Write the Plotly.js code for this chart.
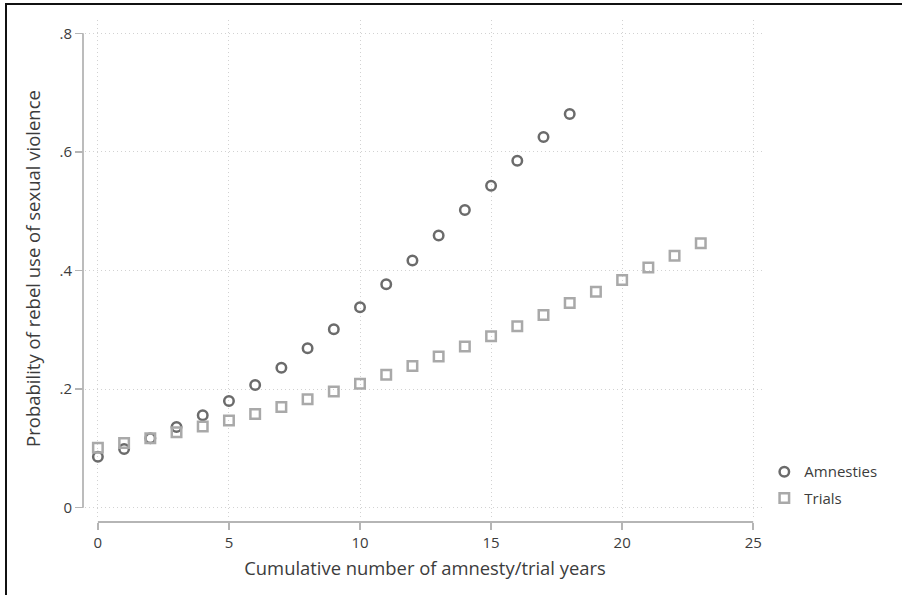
<!DOCTYPE html>
<html>
<head>
<meta charset="utf-8">
<script src="https://cdn.plot.ly/plotly-3.0.1.min.js"></script>
<style>
html, body { margin: 0; padding: 0; background: #ffffff; overflow: hidden; }
#chart { width: 902px; height: 595px; position: absolute; left: 0; top: 0; }
#frame { position: absolute; left: 5px; top: 3px; width: 910px; height: 610px;
  border-left: 2px solid #111; border-top: 2px solid #111; pointer-events: none; }
</style>
</head>
<body>
<div id="chart"></div>
<div id="frame"></div>
<script>
// Data
const amnestyX = [0,1,2,3,4,5,6,7,8,9,10,11,12,13,14,15,16,17,18];
const amnestyY = [0.086,0.099,0.117,0.136,0.156,0.180,0.207,0.236,0.269,0.301,0.338,0.377,0.417,0.459,0.502,0.543,0.585,0.625,0.664];
const trialX = [0,1,2,3,4,5,6,7,8,9,10,11,12,13,14,15,16,17,18,19,20,21,22,23];
const trialY = [0.101,0.109,0.117,0.127,0.137,0.147,0.158,0.170,0.183,0.196,0.209,0.224,0.239,0.255,0.272,0.289,0.306,0.325,0.345,0.364,0.384,0.405,0.425,0.446];
const xTicks = [0,5,10,15,20,25];
const yTicks = [0,0.2,0.4,0.6,0.8];
const yTickLabels = ["0",".2",".4",".6",".8"];

const font = "'Open Sans', 'Noto Sans', sans-serif";
const textColor = "#3c3c3c";
const axisLineColor = "#b5b5b5";
const gridColor = "#d2d2d2";

const traces = [
  {
    x: amnestyX, y: amnestyY, type: "scatter", mode: "markers", name: "Amnesties", legend: "legend",
    marker: { symbol: "circle-open", size: 9.5, color: "#6b6b6b", line: { width: 2.5, color: "#6b6b6b" } }
  },
  {
    x: trialX, y: trialY, type: "scatter", mode: "markers", name: "Trials", legend: "legend2",
    marker: { symbol: "square-open", size: 9.5, color: "#a9a9a9", line: { width: 2.5, color: "#a9a9a9" } }
  }
];

const legendBase = {
  x: 0.999, xanchor: "left", yanchor: "top",
  font: { family: font, size: 15, color: textColor },
  bgcolor: "rgba(0,0,0,0)", itemwidth: 30
};

const layout = {
  width: 902, height: 595,
  margin: { l: 83, r: 137, t: 20, b: 73, pad: 0 },
  paper_bgcolor: "#ffffff", plot_bgcolor: "#ffffff",
  font: { family: font, color: textColor, size: 15 },
  showlegend: true,
  legend: Object.assign({}, legendBase, { y: 0.1327 }),
  legend2: Object.assign({}, legendBase, { y: 0.0803 }),
  xaxis: {
    domain: [0.003, 1],
    anchor: "free", position: 0,
    range: [-0.49, 25.45],
    tickmode: "array", tickvals: xTicks,
    ticks: "outside", ticklen: 7, tickwidth: 1.5, tickcolor: axisLineColor,
    showline: false, zeroline: false,
    showgrid: true, gridcolor: gridColor, griddash: "1px,3px", gridwidth: 1,
    tickfont: { family: font, size: 15, color: textColor },
    title: { text: "Cumulative number of amnesty/trial years", font: { family: font, size: 18.4, color: textColor }, standoff: 11 }
  },
  yaxis: {
    domain: [0.01, 1],
    anchor: "free", position: 0,
    range: [-0.0157, 0.8225],
    tickmode: "array", tickvals: yTicks, ticktext: yTickLabels,
    ticks: "outside", ticklen: 8, tickwidth: 1.5, tickcolor: axisLineColor,
    showline: false, zeroline: false,
    showgrid: true, gridcolor: gridColor, griddash: "1px,3px", gridwidth: 1,
    tickfont: { family: font, size: 15, color: textColor },
    title: { text: "Probability of rebel use of sexual violence", font: { family: font, size: 18.5, color: textColor }, standoff: 12 }
  },
  shapes: [
    { type: "line", xref: "x", yref: "paper", x0: xTicks[0], x1: xTicks[xTicks.length-1], y0: 0, y1: 0,
      line: { color: axisLineColor, width: 1.8 }, layer: "above" },
    { type: "line", xref: "paper", yref: "y", x0: 0, x1: 0, y0: yTicks[0], y1: yTicks[yTicks.length-1],
      line: { color: axisLineColor, width: 1.8 }, layer: "above" }
  ]
};

Plotly.newPlot("chart", traces, layout, { staticPlot: true, displayModeBar: false });
</script>
</body>
</html>
